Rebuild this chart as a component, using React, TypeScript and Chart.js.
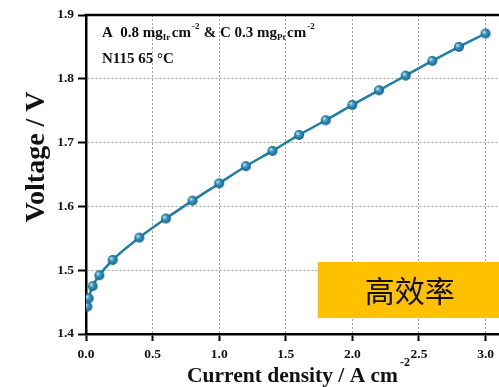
import React, { useEffect, useRef } from "react";
import { Chart, registerables } from "chart.js";
Chart.register(...registerables);

const currentDensity = [0.01, 0.02, 0.05, 0.1, 0.2, 0.4, 0.6, 0.8, 1.0, 1.2, 1.4, 1.6, 1.8, 2.0, 2.2, 2.4, 2.6, 2.8, 3.0];
const voltage = [1.443, 1.456, 1.475, 1.492, 1.516, 1.551, 1.581, 1.609, 1.636, 1.663, 1.687, 1.712, 1.735, 1.759, 1.782, 1.805, 1.828, 1.85, 1.871];
const xAxisTitle = "Current density / A cm";
const xAxisTitleSup = "-2";
const yAxisTitle = "Voltage / V";
const badgeText = "高效率";
const noteLine1 = [
  { t: "A  0.8 mg", k: "n" },
  { t: "Ir", k: "sub" },
  { t: "cm", k: "n" },
  { t: "-2", k: "sup" },
  { t: " & C 0.3 mg", k: "n" },
  { t: "Pt", k: "sub" },
  { t: "cm", k: "n" },
  { t: "-2", k: "sup" },
];
const noteLine2 = "N115 65 °C";

const SERIF = "'Liberation Serif', 'Times New Roman', serif";

function makeSphere(r: number) {
  const c = document.createElement("canvas");
  const s = Math.ceil(r * 2 + 2);
  c.width = s;
  c.height = s;
  const g = c.getContext("2d")!;
  const cx = s / 2, cy = s / 2;
  const grad = g.createRadialGradient(cx - r * 0.35, cy - r * 0.35, r * 0.1, cx, cy, r);
  grad.addColorStop(0, "#bfe6f5");
  grad.addColorStop(0.35, "#3a9cc4");
  grad.addColorStop(1, "#145f82");
  g.fillStyle = grad;
  g.beginPath();
  g.arc(cx, cy, r, 0, Math.PI * 2);
  g.fill();
  return c;
}

const decorPlugin = {
  id: "decor",
  beforeDatasetsDraw(chart: any) {
    const { ctx, scales } = chart;
    const x = scales.x, y = scales.y;
    ctx.save();
    const bx1 = x.getPixelForValue(1.74);
    const by1 = y.getPixelForValue(1.513);
    const by2 = y.getPixelForValue(1.425);
    ctx.fillStyle = "#FFC000";
    ctx.fillRect(bx1, by1, chart.width - bx1 + 2, by2 - by1);
    ctx.fillStyle = "#111";
    ctx.font = "30px 'Noto Sans CJK SC', sans-serif";
    ctx.textAlign = "center";
    ctx.textBaseline = "middle";
    ctx.fillText(badgeText, x.getPixelForValue(2.43), (by1 + by2) / 2 + 1);
    ctx.restore();
  },
  afterDraw(chart: any) {
    const { ctx, chartArea } = chart;
    ctx.save();
    ctx.strokeStyle = "#000";
    ctx.lineWidth = 2.5;
    ctx.beginPath();
    ctx.moveTo(chartArea.left - 1.25, chartArea.top);
    ctx.lineTo(chart.width, chartArea.top);
    ctx.stroke();

    ctx.fillStyle = "#111";
    ctx.textBaseline = "alphabetic";
    ctx.textAlign = "left";
    let px = chartArea.left + 16;
    const base1 = chartArea.top + 22;
    for (const seg of noteLine1) {
      if (seg.k === "n") {
        ctx.font = `bold 15px ${SERIF}`;
        ctx.fillText(seg.t, px, base1);
      } else if (seg.k === "sub") {
        ctx.font = `bold 9px ${SERIF}`;
        ctx.fillText(seg.t, px, base1 + 3);
      } else {
        ctx.font = `bold 9px ${SERIF}`;
        ctx.fillText(seg.t, px + 1, base1 - 8);
      }
      px += ctx.measureText(seg.t).width + (seg.k === "n" ? 0 : 1.5);
    }
    ctx.font = `bold 15px ${SERIF}`;
    ctx.fillText(noteLine2, chartArea.left + 16, chartArea.top + 48);

    ctx.save();
    ctx.translate(37, 157);
    ctx.rotate(-Math.PI / 2);
    ctx.font = `bold 28px ${SERIF}`;
    ctx.textAlign = "center";
    ctx.textBaseline = "middle";
    ctx.fillStyle = "#111";
    ctx.fillText(yAxisTitle, 0, 0);
    ctx.restore();

    const startX = 187;
    const baseX = 382;
    ctx.font = `bold 21.5px ${SERIF}`;
    const w1 = ctx.measureText(xAxisTitle).width;
    ctx.fillText(xAxisTitle, startX, baseX);
    ctx.font = `bold 12px ${SERIF}`;
    ctx.fillText(xAxisTitleSup, startX + w1 + 2, baseX - 16);
    ctx.restore();
  },
};

export default function App() {
  const ref = useRef<HTMLCanvasElement | null>(null);
  useEffect(() => {
    document.body.style.margin = "0";
    const canvas = ref.current!;
    const sphere = makeSphere(5);
    const chart = new Chart(canvas, {
      type: "line",
      data: {
        datasets: [
          {
            data: currentDensity.map((v, i) => ({ x: v, y: voltage[i] })),
            borderColor: "#1f7ea6",
            borderWidth: 2.5,
            pointStyle: sphere as any,
            pointRadius: 5,
            cubicInterpolationMode: "monotone",
            fill: false,
          },
        ],
      },
      options: {
        responsive: false,
        animation: false,
        devicePixelRatio: 1,
        layout: { autoPadding: false, padding: { top: 15, right: 0, left: 0, bottom: 0 } },
        plugins: { legend: { display: false }, tooltip: { enabled: false } },
        scales: {
          x: {
            type: "linear",
            min: 0,
            max: 3.1,
            afterFit: (s: any) => {
              s.height = 53;
            },
            ticks: {
              stepSize: 0.5,
              includeBounds: false,
              autoSkip: false,
              maxRotation: 0,
              padding: 5,
              color: "#111",
              font: { family: SERIF, weight: "bold", size: 13.5 },
              callback: (v: any) => Number(v).toFixed(1),
            },
            grid: {
              color: "#a0a0a0",
              lineWidth: 1,
              tickColor: "#000",
              tickWidth: 2,
              tickLength: 7,
              tickBorderDash: [],
            },
            border: { display: true, color: "#000", width: 2.5, dash: [2, 2] },
          },
          y: {
            type: "linear",
            min: 1.4,
            max: 1.9,
            afterFit: (s: any) => {
              s.width = 86;
            },
            ticks: {
              stepSize: 0.1,
              padding: 4,
              color: "#111",
              font: { family: SERIF, weight: "bold", size: 13.5 },
              callback: (v: any) => Number(v).toFixed(1),
            },
            grid: {
              color: "#a0a0a0",
              lineWidth: 1,
              tickColor: "#000",
              tickWidth: 2,
              tickLength: 8,
              tickBorderDash: [],
            },
            border: { display: true, color: "#000", width: 2.5, dash: [2, 2] },
          },
        },
      },
      plugins: [decorPlugin],
    } as any);
    return () => chart.destroy();
  }, []);
  return <canvas ref={ref} width={499} height={387} style={{ display: "block" }} />;
}
